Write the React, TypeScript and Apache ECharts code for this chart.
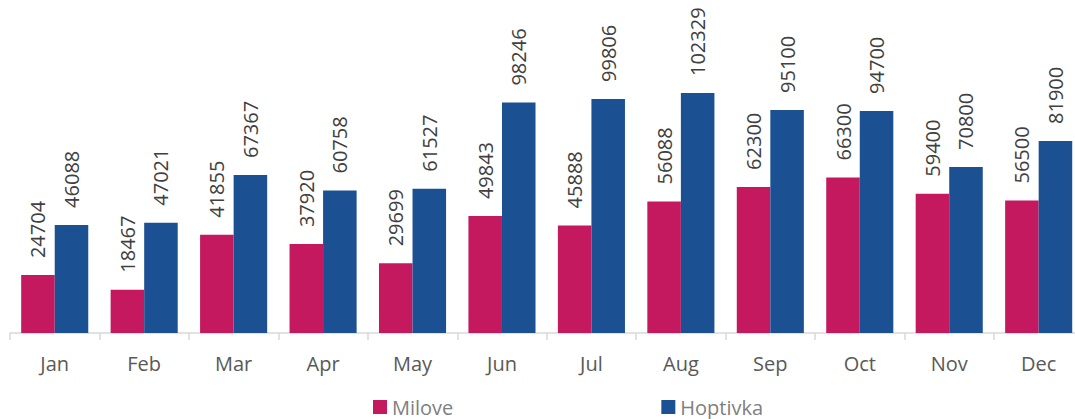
import React, { useEffect, useRef } from "react";
import * as echarts from "echarts";

const categories = ["Jan", "Feb", "Mar", "Apr", "May", "Jun", "Jul", "Aug", "Sep", "Oct", "Nov", "Dec"];
const milove = [24704, 18467, 41855, 37920, 29699, 49843, 45888, 56088, 62300, 66300, 59400, 56500];
const hoptivka = [46088, 47021, 67367, 60758, 61527, 98246, 99806, 102329, 95100, 94700, 70800, 81900];
const seriesNames = ["Milove", "Hoptivka"];

const FONT = "'Open Sans', 'Noto Sans', sans-serif";

export default function App() {
  const ref = useRef<HTMLDivElement>(null);
  useEffect(() => {
    if (!ref.current) return;
    const chart = echarts.init(ref.current, null, { renderer: "svg" });
    const label = {
      show: true,
      position: "top",
      rotate: 90,
      align: "left",
      verticalAlign: "middle",
      distance: 17,
      fontSize: 20,
      fontFamily: FONT,
      color: "#404040",
    };
    chart.setOption({
      animation: false,
      legend: {
        left: 368,
        top: 392,
        itemWidth: 14,
        itemHeight: 14,
        itemGap: 208,
        icon: "rect",
        textStyle: { fontSize: 20, fontFamily: FONT, color: "#808080" },
        data: seriesNames,
      },
      grid: { left: 10, width: 1073.4, top: 51.6, bottom: 86, containLabel: false, outerBoundsMode: "none" },
      xAxis: {
        type: "category",
        data: categories,
        axisLine: { lineStyle: { color: "#d9d9d9", width: 1.5 } },
        axisTick: { show: true, length: 7, lineStyle: { color: "#d9d9d9", width: 1.5 } },
        axisLabel: { fontSize: 20, fontFamily: FONT, color: "#595959", margin: 20 },
      },
      yAxis: {
        type: "value",
        min: 0,
        max: 120000,
        show: false,
        splitLine: { show: false },
      },
      series: [
        {
          name: seriesNames[0],
          type: "bar",
          data: milove,
          barGap: "0%",
          barCategoryGap: "25%",
          itemStyle: { color: "#C4195F" },
          label,
        },
        {
          name: seriesNames[1],
          type: "bar",
          data: hoptivka,
          barGap: "0%",
          barCategoryGap: "25%",
          itemStyle: { color: "#1B5193" },
          label,
        },
      ],
    });
    return () => chart.dispose();
  }, []);
  return <div ref={ref} style={{ width: 1075, height: 419, position: "absolute", left: 0, top: 0 }} />;
}
